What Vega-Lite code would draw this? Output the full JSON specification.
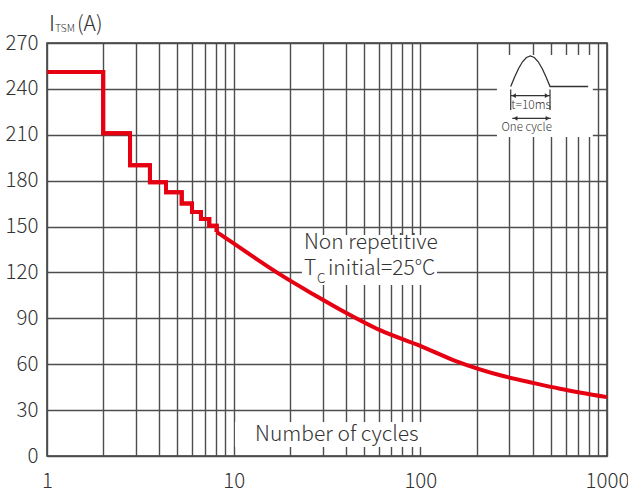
{
  "$schema": "https://vega.github.io/schema/vega-lite/v6.json",
  "width": 560,
  "height": 413,
  "autosize": {"type": "none"},
  "padding": {"left": 47, "top": 43, "right": 21, "bottom": 37},
  "background": "white",
  "config": {
    "view": {"stroke": "#333333", "strokeWidth": 1.5},
    "font": "Noto Sans CJK JP",
    "text": {"font": "Noto Sans CJK JP", "fontWeight": 300, "color": "#333333"}
  },
  "datasets": {
    "steps": [
      {"cycles": 1, "amps": 251},
      {"cycles": 2, "amps": 211},
      {"cycles": 2.785, "amps": 190},
      {"cycles": 3.56, "amps": 179},
      {"cycles": 4.34, "amps": 172.5},
      {"cycles": 5.27, "amps": 165},
      {"cycles": 5.98, "amps": 159.5},
      {"cycles": 6.68, "amps": 155},
      {"cycles": 7.4, "amps": 150.5},
      {"cycles": 8.11, "amps": 146.5}
    ],
    "curve": [
      {"cycles": 8.11, "amps": 146.5},
      {"cycles": 10, "amps": 139},
      {"cycles": 13, "amps": 129.5},
      {"cycles": 17.7, "amps": 118.7},
      {"cycles": 27.8, "amps": 104.5},
      {"cycles": 37.1, "amps": 95.8},
      {"cycles": 60.8, "amps": 82.3},
      {"cycles": 100, "amps": 72},
      {"cycles": 155, "amps": 62.1},
      {"cycles": 278, "amps": 52.3},
      {"cycles": 412, "amps": 47.5},
      {"cycles": 560, "amps": 44},
      {"cycles": 1000, "amps": 38.5}
    ],
    "pulse": [
      {"t": 0, "v": 0},
      {"t": 1, "v": 0.31},
      {"t": 2, "v": 0.59},
      {"t": 3, "v": 0.81},
      {"t": 4, "v": 0.95},
      {"t": 5, "v": 1},
      {"t": 6, "v": 0.95},
      {"t": 7, "v": 0.81},
      {"t": 8, "v": 0.59},
      {"t": 9, "v": 0.31},
      {"t": 10, "v": 0},
      {"t": 19.7, "v": 0}
    ],
    "bounds": [{"t": 0}, {"t": 10}]
  },
  "layer": [
    {
      "layer": [
        {
          "data": {"name": "steps"},
          "mark": {"type": "line", "interpolate": "step-after", "color": "#e50012", "strokeWidth": 4},
          "encoding": {
            "x": {
              "field": "cycles", "type": "quantitative",
              "scale": {"type": "log", "domain": [1, 1000], "nice": false},
              "axis": {
                "title": null,
                "values": [1,2,3,4,5,6,7,8,9,10,20,30,40,50,60,70,80,90,100,200,300,400,500,600,700,800,900,1000],
                "format": "d",
                "labelExpr": "indexof([1,10,100,1000], datum.value) >= 0 ? datum.label : ''",
                "labelOverlap": false,
                "labelBound": false,
                "labelFlush": false,
                "grid": true, "gridColor": "#4d4d4d", "gridWidth": 1.4, "gridOpacity": 1,
                "ticks": false, "domain": false, "zindex": 0,
                "labelFont": "Noto Sans CJK JP", "labelFontWeight": 300,
                "labelFontSize": 20.5, "labelColor": "#333333", "labelPadding": 15
              }
            },
            "y": {
              "field": "amps", "type": "quantitative",
              "scale": {"domain": [0, 270], "nice": false, "zero": false},
              "axis": {
                "title": null,
                "values": [0,15,30,45,60,75,90,105,120,135,150,165,180,195,210,225,240,255,270],
                "labelExpr": "datum.value % 30 === 0 ? datum.label : ''",
                "labelOverlap": false,
                "labelBound": false,
                "labelFlush": false,
                "grid": true, "gridColor": "#4d4d4d", "gridWidth": 1.4, "gridOpacity": 1,
                "ticks": false, "domain": false, "zindex": 0,
                "labelFont": "Noto Sans CJK JP", "labelFontWeight": 300,
                "labelFontSize": 20.5, "labelColor": "#333333", "labelPadding": 9
              }
            }
          }
        },
        {
          "data": {"values": [{}]},
          "mark": {"type": "rect", "fill": "white"},
          "encoding": {
            "x": {"datum": 23.2, "type": "quantitative"},
            "x2": {"datum": 122.8},
            "y": {"datum": 144.5, "type": "quantitative"},
            "y2": {"datum": 111.8}
          }
        },
        {
          "data": {"values": [{}]},
          "mark": {"type": "rect", "fill": "white"},
          "encoding": {
            "x": {"datum": 10.16, "type": "quantitative"},
            "x2": {"datum": 122.8},
            "y": {"datum": 22.2, "type": "quantitative"},
            "y2": {"datum": 5.9}
          }
        },
        {
          "data": {"name": "steps"},
          "mark": {"type": "line", "interpolate": "step-after", "color": "#e50012", "strokeWidth": 4},
          "encoding": {
            "x": {"field": "cycles", "type": "quantitative"},
            "y": {"field": "amps", "type": "quantitative"}
          }
        },
        {
          "data": {"name": "curve"},
          "mark": {"type": "line", "interpolate": "monotone", "color": "#e50012", "strokeWidth": 4},
          "encoding": {
            "x": {"field": "cycles", "type": "quantitative"},
            "y": {"field": "amps", "type": "quantitative"}
          }
        },
        {
          "data": {"values": [{}]},
          "mark": {"type": "text", "text": "Non repetitive", "align": "left", "baseline": "alphabetic", "fontSize": 21},
          "encoding": {
            "x": {"datum": 23.8, "type": "quantitative"},
            "y": {"datum": 135.2, "type": "quantitative"}
          }
        },
        {
          "data": {"values": [{}]},
          "mark": {"type": "text", "text": "T", "align": "left", "baseline": "alphabetic", "fontSize": 21},
          "encoding": {
            "x": {"datum": 23.8, "type": "quantitative"},
            "y": {"datum": 118.3, "type": "quantitative"}
          }
        },
        {
          "data": {"values": [{}]},
          "mark": {"type": "text", "text": "C", "align": "left", "baseline": "alphabetic", "fontSize": 13.5, "dx": 13},
          "encoding": {
            "x": {"datum": 23.8, "type": "quantitative"},
            "y": {"datum": 112.9, "type": "quantitative"}
          }
        },
        {
          "data": {"values": [{}]},
          "mark": {"type": "text", "text": "initial=25°C", "align": "left", "baseline": "alphabetic", "fontSize": 21, "dx": 24},
          "encoding": {
            "x": {"datum": 23.8, "type": "quantitative"},
            "y": {"datum": 118.3, "type": "quantitative"}
          }
        },
        {
          "data": {"values": [{}]},
          "mark": {"type": "text", "text": "Number of cycles", "align": "center", "baseline": "alphabetic", "fontSize": 21},
          "encoding": {
            "x": {"datum": 35.7, "type": "quantitative"},
            "y": {"datum": 9.8, "type": "quantitative"}
          }
        },
        {
          "data": {"values": [{}]},
          "mark": {"type": "text", "text": "I", "align": "left", "baseline": "alphabetic", "fontSize": 22, "dx": 2},
          "encoding": {
            "x": {"datum": 1, "type": "quantitative"},
            "y": {"datum": 277.8, "type": "quantitative"}
          }
        },
        {
          "data": {"values": [{}]},
          "mark": {"type": "text", "text": "TSM", "align": "left", "baseline": "alphabetic", "fontSize": 10.5, "dx": 8},
          "encoding": {
            "x": {"datum": 1, "type": "quantitative"},
            "y": {"datum": 277.2, "type": "quantitative"}
          }
        },
        {
          "data": {"values": [{}]},
          "mark": {"type": "text", "text": "(A)", "align": "left", "baseline": "alphabetic", "fontSize": 21, "dx": 30},
          "encoding": {
            "x": {"datum": 1, "type": "quantitative"},
            "y": {"datum": 277.8, "type": "quantitative"}
          }
        }
      ]
    },
    {
      "layer": [
        {
          "data": {"values": [{}]},
          "mark": {"type": "rect", "fill": "white"},
          "encoding": {
            "x": {"datum": -3.5, "type": "quantitative", "scale": {"domain": [-117.99, 24.5], "nice": false, "zero": false}, "axis": null},
            "x2": {"datum": 20.9},
            "y": {"datum": 1.033, "type": "quantitative", "scale": {"domain": [-12.115, 1.426], "nice": false, "zero": false}, "axis": null},
            "y2": {"datum": -1.656}
          }
        },
        {
          "data": {"name": "pulse"},
          "mark": {"type": "line", "color": "#333333", "strokeWidth": 1.3},
          "encoding": {
            "x": {"field": "t", "type": "quantitative"},
            "y": {"field": "v", "type": "quantitative"}
          }
        },
        {
          "data": {"name": "bounds"},
          "mark": {"type": "rule", "color": "#333333", "strokeWidth": 1.2},
          "encoding": {
            "x": {"field": "t", "type": "quantitative"},
            "y": {"datum": -0.1, "type": "quantitative"},
            "y2": {"datum": -0.77}
          }
        },
        {
          "data": {"values": [{}]},
          "mark": {"type": "rule", "color": "#333333", "strokeWidth": 1.2},
          "encoding": {
            "x": {"datum": 0, "type": "quantitative"},
            "x2": {"datum": 10},
            "y": {"datum": -0.302, "type": "quantitative"}
          }
        },
        {
          "data": {"values": [{}]},
          "mark": {"type": "rule", "color": "#333333", "strokeWidth": 1.2},
          "encoding": {
            "x": {"datum": 0.4, "type": "quantitative"},
            "x2": {"datum": 10.2},
            "y": {"datum": -1.043, "type": "quantitative"}
          }
        },
        {
          "data": {"values": [{}]},
          "mark": {"type": "point", "shape": "triangle-left", "filled": true, "color": "#333333", "size": 22, "opacity": 1},
          "encoding": {
            "x": {"datum": 0.8, "type": "quantitative"},
            "y": {"datum": -0.302, "type": "quantitative"}
          }
        },
        {
          "data": {"values": [{}]},
          "mark": {"type": "point", "shape": "triangle-right", "filled": true, "color": "#333333", "size": 22, "opacity": 1},
          "encoding": {
            "x": {"datum": 9.2, "type": "quantitative"},
            "y": {"datum": -0.302, "type": "quantitative"}
          }
        },
        {
          "data": {"values": [{}]},
          "mark": {"type": "point", "shape": "triangle-left", "filled": true, "color": "#333333", "size": 22, "opacity": 1},
          "encoding": {
            "x": {"datum": 1.2, "type": "quantitative"},
            "y": {"datum": -1.043, "type": "quantitative"}
          }
        },
        {
          "data": {"values": [{}]},
          "mark": {"type": "point", "shape": "triangle-right", "filled": true, "color": "#333333", "size": 22, "opacity": 1},
          "encoding": {
            "x": {"datum": 9.4, "type": "quantitative"},
            "y": {"datum": -1.043, "type": "quantitative"}
          }
        },
        {
          "data": {"values": [{}]},
          "mark": {"type": "text", "text": "t=10ms", "align": "center", "baseline": "middle", "fontSize": 12},
          "encoding": {
            "x": {"datum": 5.2, "type": "quantitative"},
            "y": {"datum": -0.607, "type": "quantitative"}
          }
        },
        {
          "data": {"values": [{}]},
          "mark": {"type": "text", "text": "One  cycle", "align": "center", "baseline": "middle", "fontSize": 11.5},
          "encoding": {
            "x": {"datum": 4.06, "type": "quantitative"},
            "y": {"datum": -1.37, "type": "quantitative"}
          }
        }
      ]
    }
  ],
  "resolve": {"scale": {"x": "independent", "y": "independent"}}
}
